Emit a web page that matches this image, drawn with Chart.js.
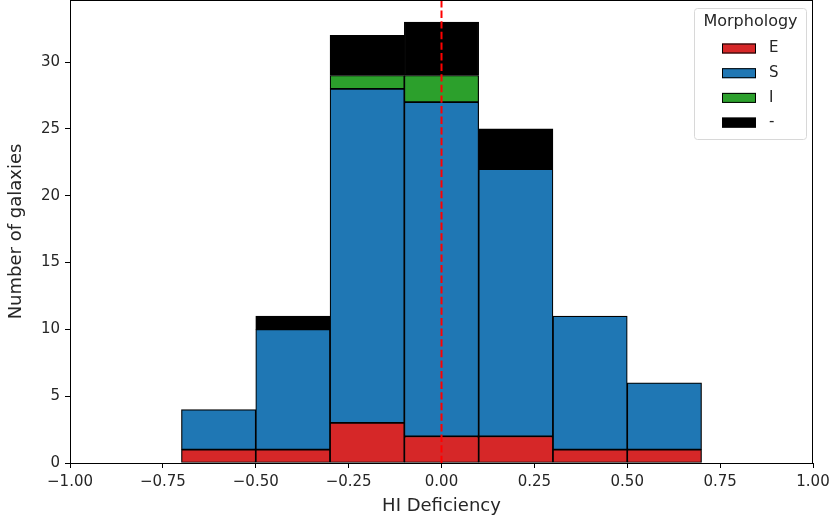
<!DOCTYPE html>
<html>
<head>
<meta charset="utf-8">
<script src="https://cdn.jsdelivr.net/npm/chart.js@4.4.0/dist/chart.umd.min.js"></script>
<style>
  html, body { margin: 0; padding: 0; background: #fff; }
  #wrap { width: 832px; height: 522px; }
</style>
</head>
<body>
<div id="wrap"><canvas id="c" width="832" height="522"></canvas></div>
<script>
// Bin centres of the HI deficiency histogram (bin width 0.2)
const binCenters = [-0.6, -0.4, -0.2, 0.0, 0.2, 0.4, 0.6];
// Galaxy counts per morphology class in each bin
const countsE    = [1, 1, 3, 2, 2, 1, 1];
const countsS    = [3, 9, 25, 25, 20, 10, 5];
const countsI    = [0, 0, 1, 2, 0, 0, 0];
const countsNone = [0, 1, 3, 4, 3, 0, 0];
const classLabels = ['E', 'S', 'I', '-'];
const classColors = ['#d62728', '#1f77b4', '#2ca02c', '#000000'];
const xTickValues = [-1, -0.75, -0.5, -0.25, 0, 0.25, 0.5, 0.75, 1];
const yTickValues = [0, 5, 10, 15, 20, 25, 30];
const referenceLine = 0.0;

const FONT = 'DejaVu Sans';
const TEXT = '#262626';
const series = [countsE, countsS, countsI, countsNone];

const datasets = series.map((vals, i) => ({
  label: classLabels[i],
  data: binCenters.map((x, j) => ({ x: x, y: vals[j] })),
  backgroundColor: classColors[i],
  borderColor: '#000',
  borderWidth: 1.2,
  borderSkipped: false,
  barPercentage: 1.0,
  categoryPercentage: 1.0,
  stack: 'morph'
}));

const fmt = v => (v < 0 ? '\u2212' : '') + Math.abs(v).toFixed(2);

// Frame, dashed reference line, and boxed legend
const decor = {
  id: 'decor',
  afterDatasetsDraw(chart) {
    const { ctx, chartArea: a, scales } = chart;
    ctx.save();
    // dashed vertical line
    const xp = scales.x.getPixelForValue(referenceLine);
    ctx.strokeStyle = '#ff0000';
    ctx.lineWidth = 2;
    ctx.setLineDash([7.4, 3.2]);
    ctx.beginPath();
    ctx.moveTo(xp, a.top);
    ctx.lineTo(xp, a.bottom);
    ctx.stroke();
    ctx.setLineDash([]);
    // frame
    ctx.strokeStyle = '#000';
    ctx.lineWidth = 1;
    ctx.strokeRect(Math.round(a.left) + 0.5, Math.round(a.top) + 0.5,
                   Math.round(a.right - a.left) - 1, Math.round(a.bottom - a.top));
    // legend
    const lx = 694, ly = 8, lw = 112, lh = 131;
    ctx.fillStyle = 'rgba(255,255,255,0.8)';
    ctx.strokeStyle = '#d8d8d8';
    ctx.lineWidth = 1;
    ctx.beginPath();
    ctx.roundRect(lx + 0.5, ly + 0.5, lw, lh, 3);
    ctx.fill();
    ctx.stroke();
    ctx.fillStyle = TEXT;
    ctx.font = '16px "' + FONT + '"';
    ctx.textAlign = 'center';
    ctx.textBaseline = 'middle';
    ctx.fillText('Morphology', lx + lw / 2 + 0.5, 22);
    ctx.font = '15px "' + FONT + '"';
    ctx.textAlign = 'left';
    classLabels.forEach((lab, i) => {
      const y = 48.5 + i * 24.7;
      ctx.fillStyle = classColors[i];
      ctx.fillRect(722, y - 5, 34, 10);
      ctx.strokeStyle = '#000';
      ctx.strokeRect(722.5, y - 4.5, 33, 9);
      ctx.fillStyle = TEXT;
      ctx.fillText(lab, 769, y);
    });
    ctx.restore();
  }
};

new Chart(document.getElementById('c'), {
  type: 'bar',
  data: { datasets },
  options: {
    responsive: false,
    animation: false,
    layout: { padding: { top: 0, right: 19, left: 0, bottom: 0 } },
    plugins: { legend: { display: false }, tooltip: { enabled: false } },
    scales: {
      x: {
        type: 'linear',
        stacked: true,
        offset: false,
        min: -1, max: 1,
        afterBuildTicks: s => { s.ticks = xTickValues.map(v => ({ value: v })); },
        afterFit: s => { s.height = 59; s.paddingLeft = 0; s.paddingRight = 0; },
        ticks: {
          callback: v => fmt(v),
          color: TEXT,
          font: { family: FONT, size: 15 },
          maxRotation: 0,
          autoSkip: false,
          padding: 5
        },
        grid: { drawOnChartArea: false, offset: false, tickLength: 5, color: '#000', tickColor: '#000' },
        border: { display: false },
        title: {
          display: true,
          text: 'HI Deficiency',
          color: TEXT,
          font: { family: FONT, size: 18 },
          padding: { top: 0, bottom: 5 }
        }
      },
      y: {
        stacked: true,
        min: 0, max: 34.65,
        afterBuildTicks: s => { s.ticks = yTickValues.map(v => ({ value: v })); },
        afterFit: s => { s.width = 70; s.paddingTop = 0; s.paddingBottom = 0; },
        ticks: {
          color: TEXT,
          font: { family: FONT, size: 15 },
          padding: 5
        },
        grid: { drawOnChartArea: false, tickLength: 5, color: '#000', tickColor: '#000' },
        border: { display: false },
        title: {
          display: true,
          text: 'Number of galaxies',
          color: TEXT,
          font: { family: FONT, size: 18 },
          padding: { top: 6, bottom: 4 }
        }
      }
    }
  },
  plugins: [decor]
});
</script>
</body>
</html>
